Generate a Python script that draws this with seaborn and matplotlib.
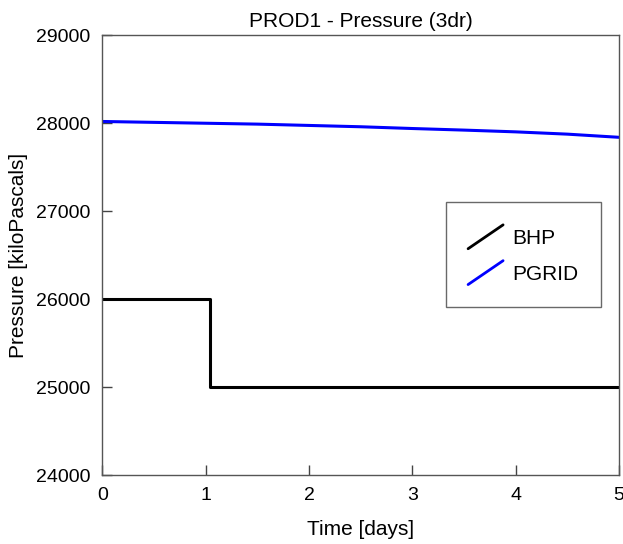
import matplotlib
matplotlib.use("Agg")
import matplotlib.pyplot as plt
import seaborn as sns
import pandas as pd
from matplotlib.lines import Line2D
from matplotlib.legend_handler import HandlerBase

# Data
bhp_time = [0.0, 1.04, 1.04, 5.0]
bhp_vals = [26000, 26000, 25000, 25000]
pgrid_time = [0.0, 0.5, 1.0, 1.5, 2.0, 2.5, 3.0, 3.5, 4.0, 4.5, 5.0]
pgrid_vals = [28020, 28010, 28000, 27990, 27975, 27960, 27940, 27922, 27902, 27876, 27840]
x_ticks = [0, 1, 2, 3, 4, 5]
y_ticks = [24000, 25000, 26000, 27000, 28000, 29000]

sns.set_theme(style="white")
plt.rcParams['font.family'] = ['Liberation Sans', 'DejaVu Sans']
plt.rcParams['text.color'] = 'black'
plt.rcParams['axes.labelcolor'] = 'black'
plt.rcParams['xtick.labelcolor'] = 'black'
plt.rcParams['ytick.labelcolor'] = 'black'

fig = plt.figure(figsize=(6.23, 5.44), dpi=100)
ax = fig.add_axes([102.3/623, 1-475/544, (619-102.3)/623, (475-35.3)/544])

df_bhp = pd.DataFrame({"t": bhp_time, "p": bhp_vals})
df_pg = pd.DataFrame({"t": pgrid_time, "p": pgrid_vals})
sns.lineplot(data=df_bhp, x="t", y="p", ax=ax, color="black", lw=2.2,
             sort=False, estimator=None, label="BHP")
sns.lineplot(data=df_pg, x="t", y="p", ax=ax, color="#0000ff", lw=2.2,
             sort=False, estimator=None, label="PGRID")

ax.set_xlim(0, 5)
ax.set_ylim(24000, 29000)
ax.set_xticks(x_ticks)
ax.set_yticks(y_ticks)
ax.set_xticklabels([str(v) for v in x_ticks])
ax.set_yticklabels([str(v) for v in y_ticks])
ax.tick_params(direction="in", length=7, width=1, color="#444444",
               labelsize=14, labelcolor="black", bottom=True, left=True)
ax.tick_params(axis="x", pad=9)
ax.tick_params(axis="y", pad=8.5)
for s in ax.spines.values():
    s.set_color("#555555")
    s.set_linewidth(1.0)

ax.set_title("PROD1 - Pressure (3dr)", fontsize=15, pad=6, color="black")
ax.set_xlabel("Time [days]", fontsize=15, labelpad=11, color="black")
ax.set_ylabel("Pressure [kiloPascals]", fontsize=15, labelpad=6, color="black")


class DiagHandler(HandlerBase):
    def create_artists(self, legend, orig_handle, xdescent, ydescent,
                       width, height, fontsize, trans):
        cy = -ydescent + height / 2.0
        half = 8.6  # points
        l = Line2D([-xdescent, -xdescent + width],
                   [cy - half, cy + half],
                   color=orig_handle.get_color(), lw=2, transform=trans)
        return [l]


handles, labels = ax.get_legend_handles_labels()
leg = ax.legend(handles, labels, handler_map={Line2D: DiagHandler()},
                loc="upper left",
                bbox_to_anchor=((446-102.3)/516.7, 1-(202-35.3)/439.7),
                fontsize=15, frameon=True, fancybox=False, handlelength=1.68,
                handleheight=1.5, borderpad=1.06, labelspacing=0.5,
                handletextpad=0.45, borderaxespad=0, labelcolor="black")
leg.get_frame().set_edgecolor("#444444")
leg.get_frame().set_linewidth(1.0)

fig.savefig("out.png", dpi=100)
